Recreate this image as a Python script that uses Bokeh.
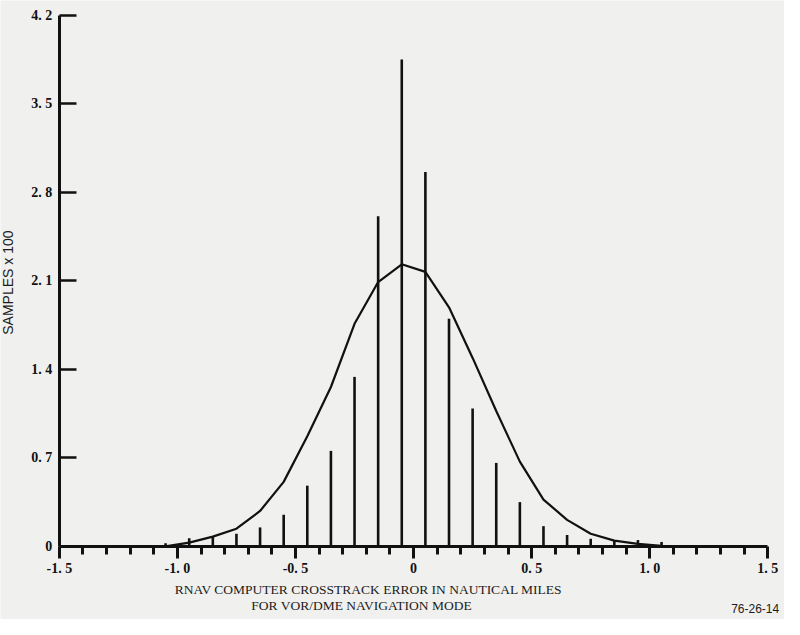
import math
from bokeh.plotting import figure
from bokeh.models import FixedTicker, Range1d
from bokeh.core.properties import value
from bokeh.embed import file_html
from bokeh.resources import INLINE

# --- data ---
spike_x = [-1.45, -1.35, -1.25, -1.15, -1.05, -0.95, -0.85, -0.75, -0.65, -0.55,
           -0.45, -0.35, -0.25, -0.15, -0.05, 0.05, 0.15, 0.25, 0.35, 0.45,
           0.55, 0.65, 0.75, 0.85, 0.95, 1.05, 1.15, 1.25, 1.35, 1.45]
spike_h = [0.01, 0.01, 0.01, 0.01, 0.025, 0.064, 0.08, 0.10, 0.15, 0.25,
           0.48, 0.755, 1.34, 2.61, 3.85, 2.96, 1.80, 1.09, 0.66, 0.35,
           0.16, 0.09, 0.06, 0.05, 0.05, 0.035, 0.01, 0.01, 0.01, 0.01]

curve_x = [-1.05, -0.95, -0.85, -0.75, -0.65, -0.55, -0.45, -0.35, -0.25, -0.15,
           -0.05, 0.05, 0.15, 0.25, 0.35, 0.45, 0.55, 0.65, 0.75, 0.85, 0.95, 1.05]
curve_y = [0.0, 0.03, 0.077, 0.14, 0.28, 0.51, 0.87, 1.26, 1.76, 2.09,
           2.23, 2.17, 1.89, 1.49, 1.07, 0.67, 0.37, 0.21, 0.10, 0.046, 0.02, 0.005]

x_ticks = [-1.5, -1.0, -0.5, 0.0, 0.5, 1.0, 1.5]
x_tick_labels = ["-1. 5", "-1. 0", "-0. 5", "0", "0. 5", "1. 0", "1. 5"]
x_minor_ticks = [-1.4, -1.3, -1.2, -1.1, -0.9, -0.8, -0.7, -0.6, -0.4, -0.3, -0.2, -0.1,
                 0.1, 0.2, 0.3, 0.4, 0.6, 0.7, 0.8, 0.9, 1.1, 1.2, 1.3, 1.4]
y_ticks = [0.0, 0.7, 1.4, 2.1, 2.8, 3.5, 4.2]
y_tick_labels = ["0", "0. 7", "1. 4", "2. 1", "2. 8", "3. 5", "4. 2"]

x_title_1 = "RNAV COMPUTER CROSSTRACK ERROR IN NAUTICAL MILES"
x_title_2 = "FOR VOR/DME  NAVIGATION MODE"
y_title = "SAMPLES x 100"
code_text = "76-26-14"

BG = "#f0f0ee"
INK = "#111111"
TXT = "#1c1c1c"

# frame covers the whole figure; axes are pinned at x=-1.5 and y=0
p = figure(width=784, height=619, output_backend="svg", toolbar_location=None,
           x_range=Range1d(-1.749, 1.5705), y_range=Range1d(-0.578, 4.3156),
           min_border=0)
p.background_fill_color = BG
p.border_fill_color = BG
p.outline_line_color = None
p.grid.visible = False

# spikes
p.segment(x0=spike_x, y0=[0] * len(spike_x), x1=spike_x, y1=spike_h,
          line_color=INK, line_width=2.6)
# curve
p.line(curve_x, curve_y, line_color=INK, line_width=2.2)

# x axis
xa = p.xaxis[0]
xa.fixed_location = 0
xa.bounds = (-1.5, 1.5)
xa.ticker = FixedTicker(ticks=x_ticks, minor_ticks=x_minor_ticks)
xa.major_label_overrides = {t: l for t, l in zip(x_ticks, x_tick_labels)}
xa.axis_line_width = 3
xa.axis_line_color = INK
xa.major_tick_line_width = 3
xa.major_tick_line_color = INK
xa.minor_tick_line_width = 3
xa.minor_tick_line_color = INK
xa.major_tick_in = 0
xa.major_tick_out = 12
xa.minor_tick_in = 0
xa.minor_tick_out = 8
xa.major_label_standoff = 3
xa.major_label_text_font = "Liberation Serif"
xa.major_label_text_font_style = "bold"
xa.major_label_text_font_size = "14px"
xa.major_label_text_color = INK

# y axis
ya = p.yaxis[0]
ya.fixed_location = -1.5
ya.bounds = (0, 4.2)
ya.ticker = FixedTicker(ticks=y_ticks)
ya.major_label_overrides = {t: l for t, l in zip(y_ticks, y_tick_labels)}
ya.axis_line_width = 3
ya.axis_line_color = INK
ya.major_tick_line_width = 2.5
ya.major_tick_line_color = INK
ya.major_tick_in = 17
ya.major_tick_out = 0
ya.minor_tick_line_color = None
ya.major_label_standoff = 7
ya.major_label_text_font = "Liberation Serif"
ya.major_label_text_font_style = "bold"
ya.major_label_text_font_size = "14px"
ya.major_label_text_color = INK

# axis titles and figure code
p.text(x=[-0.191], y=[-0.339], text=[x_title_1], text_align="center",
       text_baseline="middle", text_font=value("Liberation Serif"),
       text_font_size="13.5px", text_color=TXT)
p.text(x=[-0.213], y=[-0.47], text=[x_title_2], text_align="center",
       text_baseline="middle", text_font=value("Liberation Serif"),
       text_font_size="13.5px", text_color=TXT)
p.text(x=[-1.718], y=[2.085], text=[y_title], angle=math.pi / 2,
       text_align="center", text_baseline="middle",
       text_font=value("Liberation Sans"), text_font_size="14px", text_color=TXT)
p.text(x=[1.548], y=[-0.493], text=[code_text], text_align="right",
       text_baseline="middle", text_font=value("Liberation Sans"),
       text_font_size="12px", text_color=TXT)

open("out.html", "w").write(file_html(p, INLINE))
